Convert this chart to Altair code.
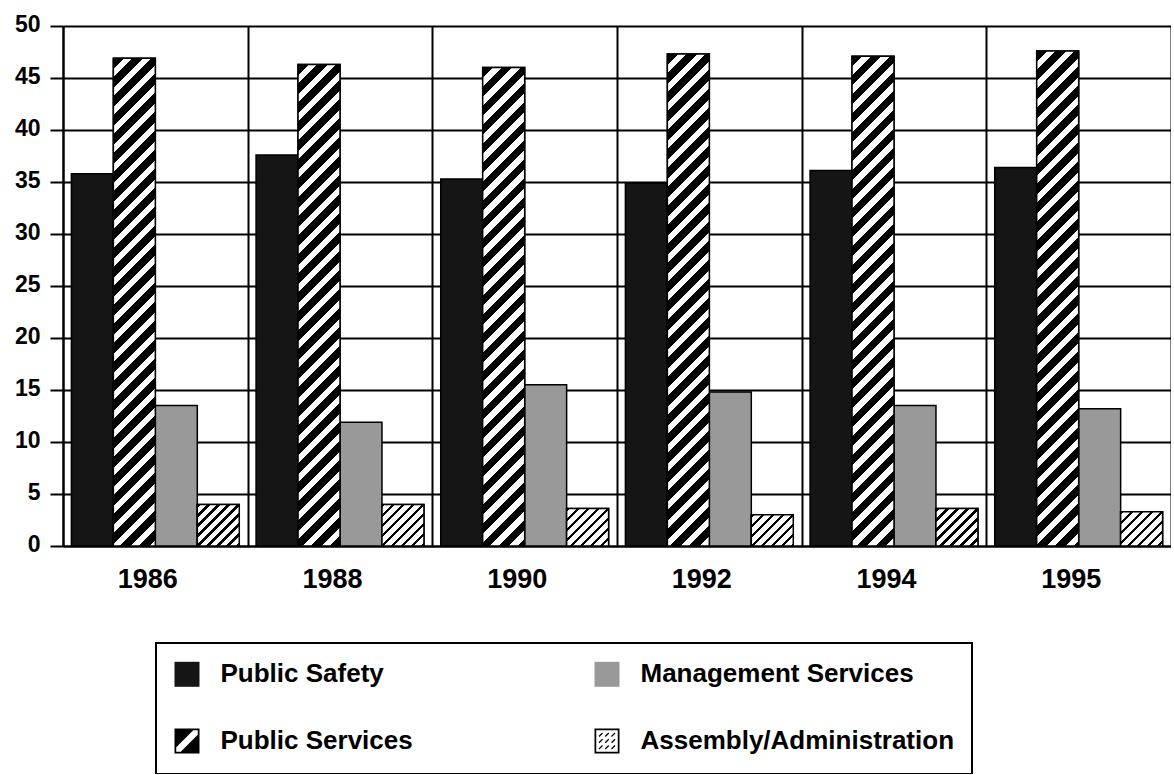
import altair as alt
import pandas as pd

# Share of spending by function, per year (percent)
YEARS = ["1986", "1988", "1990", "1992", "1994", "1995"]
SERIES = ["Public Safety", "Public Services", "Management Services", "Assembly/Administration"]
PUBLIC_SAFETY = [35.8, 37.6, 35.3, 34.9, 36.1, 36.4]
PUBLIC_SERVICES = [46.9, 46.3, 46.0, 47.3, 47.1, 47.6]
MANAGEMENT_SERVICES = [13.5, 11.9, 15.5, 14.8, 13.5, 13.2]
ASSEMBLY_ADMIN = [4.0, 4.0, 3.6, 3.0, 3.6, 3.3]

rows = []
for series, values in zip(SERIES, [PUBLIC_SAFETY, PUBLIC_SERVICES, MANAGEMENT_SERVICES, ASSEMBLY_ADMIN]):
    for year, v in zip(YEARS, values):
        rows.append({"Year": year, "Category": series, "Value": v})
df = pd.DataFrame(rows)

PLOT_W = 1108
PLOT_H = 520
Y_MAX = 50
OFFSET_PAD = 0.2
BAR_W = PLOT_W / len(YEARS) / (len(SERIES) + 2 * OFFSET_PAD)

AXIS_FONT = "Liberation Sans, Arial, sans-serif"


def stripes(w, h, period, dark, fg="#000000", bg="#ffffff"):
    """Diagonal '/' hatching as a hard-stop linear gradient for a w x h box."""
    a = max(1.0, (w + h) * w / (w * w + h * h))
    dt = period * w / (a * (w * w + h * h))
    stops = []
    t = 0.0
    while t < 1.0:
        t1 = min(t + dark * dt, 1.0)
        t2 = min(t + dt, 1.0)
        stops += [
            {"offset": round(t, 5), "color": fg},
            {"offset": round(t1, 5), "color": fg},
            {"offset": round(t1, 5), "color": bg},
            {"offset": round(t2, 5), "color": bg},
        ]
        t += dt
    return {"gradient": "linear", "x1": 0, "y1": 0, "x2": round(a, 5),
            "y2": round(a * h / w, 5), "stops": stops}


HATCH = {"Public Services": (19, 0.56), "Assembly/Administration": (10, 0.36)}
FILL = {"Public Safety": "#151515", "Public Services": "#000000",
        "Management Services": "#999999", "Assembly/Administration": "#000000"}

# Legend swatch outlines in the unit square [-1, 1]
FRAME = "M-1,-1H1V1H-1Z M-0.86,-0.86V0.86H0.86V-0.86Z"
SQUARE = "M-1,-1H1V1H-1Z"
SLASH = FRAME + " M-0.86,-0.86L0.5,-0.86L-0.86,0.5Z M0.86,0.86L0.86,-0.5L-0.5,0.86Z"


def dash(cx, cy, half_len=0.2, half_w=0.05):
    ax, ay = 0.7071 * half_len, -0.7071 * half_len
    bx, by = 0.7071 * half_w, 0.7071 * half_w
    pts = [(cx - ax - bx, cy - ay - by), (cx + ax - bx, cy + ay - by),
           (cx + ax + bx, cy + ay + by), (cx - ax + bx, cy - ay + by)]
    return "M" + "L".join("%.3f,%.3f" % p for p in pts) + "Z"


DASHES = FRAME + " " + " ".join(dash(cx, cy) for cx in (-0.5, 0, 0.5) for cy in (-0.5, 0, 0.5))
SHAPE = {"Public Safety": SQUARE, "Management Services": SQUARE,
         "Public Services": SLASH, "Assembly/Administration": DASHES}

# Two columns, filled top to bottom
LEGEND = alt.Legend(
    title=None, orient="none", legendX=93, legendY=617,
    columns=2, columnPadding=178, rowPadding=36, padding=17.5,
    strokeColor="black", symbolSize=625,
    symbolStrokeColor="black", symbolStrokeWidth=1.2, symbolOpacity=1,
    labelFont=AXIS_FONT, labelFontSize=26, labelFontWeight="bold",
    labelColor="black", labelOffset=20, labelLimit=400,
)

base = alt.Chart(df).encode(
    x=alt.X(
        "Year:N",
        scale=alt.Scale(domain=YEARS, paddingInner=0, paddingOuter=0),
        axis=alt.Axis(
            title=None, labelAngle=0, ticks=False, tickBand="extent",
            grid=True, gridColor="black", gridWidth=2, gridOpacity=1,
            domain=True, domainColor="black", domainWidth=2,
            labelFont=AXIS_FONT, labelFontSize=27, labelFontWeight="bold",
            labelColor="black", labelPadding=20, labelOffset=-8,
        ),
    ),
    xOffset=alt.XOffset(
        "Category:N",
        scale=alt.Scale(domain=SERIES, paddingInner=0, paddingOuter=OFFSET_PAD),
    ),
    y=alt.Y(
        "Value:Q",
        scale=alt.Scale(domain=[0, Y_MAX], nice=False),
        axis=alt.Axis(
            title=None, values=list(range(0, 51, 5)),
            grid=True, gridColor="black", gridWidth=2, gridOpacity=1,
            domain=True, domainColor="black", domainWidth=2,
            ticks=True, tickColor="black", tickWidth=2, tickSize=13,
            labelFont=AXIS_FONT, labelFontSize=23, labelFontWeight="bold",
            labelColor="black", labelPadding=10, labelOffset=-2,
        ),
    ),
)

color_enc = alt.Color(
    "Category:N",
    scale=alt.Scale(domain=SERIES, range=[FILL[c] for c in SERIES]),
    legend=LEGEND,
)
shape_enc = alt.Shape(
    "Category:N",
    scale=alt.Scale(domain=SERIES, range=[SHAPE[c] for c in SERIES]),
    legend=LEGEND,
)

# Solid bars (the hatched series are painted over below)
bars = base.mark_bar(stroke="black", strokeWidth=1.5, opacity=1).encode(color=color_enc)

# Empty point layer that carries the swatch shapes into the legend
keys = base.transform_filter("false").mark_point(filled=True, opacity=1, size=625).encode(
    color=color_enc, shape=shape_enc
)

layers = [bars]
for name, values in [("Public Services", PUBLIC_SERVICES), ("Assembly/Administration", ASSEMBLY_ADMIN)]:
    period, dark = HATCH[name]
    for year, v in zip(YEARS, values):
        h = v / Y_MAX * PLOT_H
        layers.append(
            base.transform_filter(
                (alt.datum.Year == year) & (alt.datum.Category == name)
            ).mark_bar(fill=stripes(BAR_W, h, period, dark), stroke="black", strokeWidth=1.5)
        )
layers.append(keys)

chart = alt.layer(*layers).properties(
    width=PLOT_W,
    height=PLOT_H,
    autosize=alt.AutoSizeParams(type="none"),
    padding={"left": 63, "top": 26, "right": 0, "bottom": 228},
    background="white",
).configure_view(stroke=None).configure_legend(strokeWidth=2)

chart.save("out.html", embed_options={"renderer": "svg", "actions": False})
